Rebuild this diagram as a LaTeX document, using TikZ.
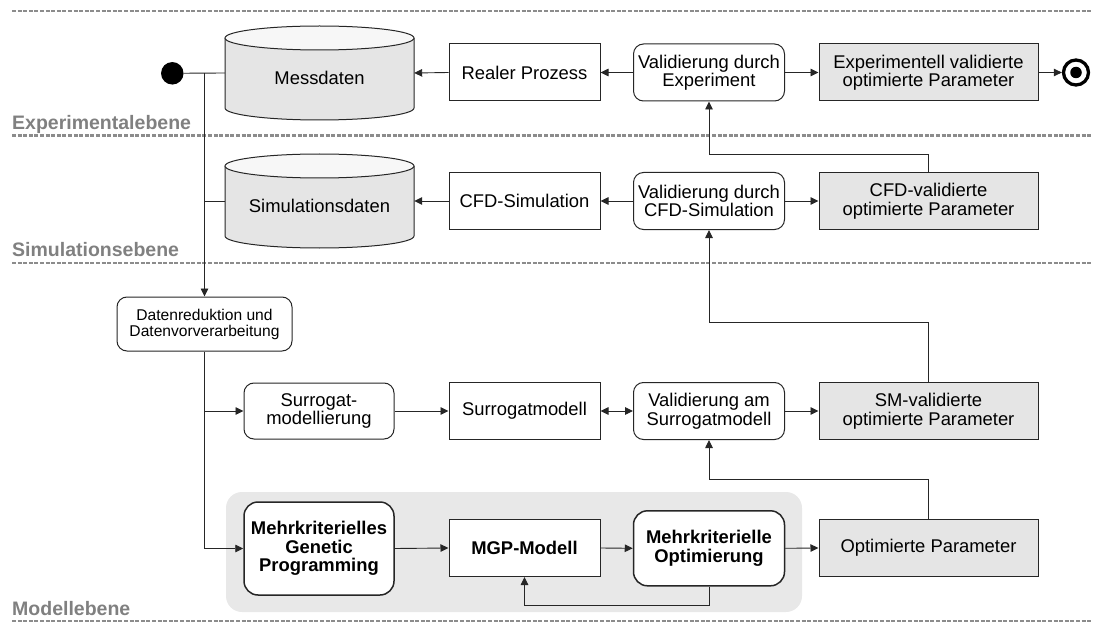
\documentclass[tikz,border=0pt]{standalone}
\usepackage{fontspec}
\setmainfont{Liberation Sans}
\usetikzlibrary{arrows.meta}
\begin{document}
\begin{tikzpicture}[x=1pt,y=-1pt,
  lane/.style={draw=black!45, line width=2.8pt, dash pattern=on 4pt off 1.6pt},
  lanelabel/.style={anchor=base west, inner sep=0pt, text=black!50, font=\fontsize{19.5}{20}\selectfont\bfseries},
  con/.style={draw=black!85, line width=0.9pt},
  arr/.style={con, -{Triangle[length=8pt,width=7.5pt]}},
  darr/.style={con, {Triangle[length=8pt,width=7.5pt]}-{Triangle[length=8pt,width=7.5pt]}},
  box/.style={draw=black!85, line width=1pt, minimum width=151pt, minimum height=57pt, align=center, inner sep=2pt, font=\fontsize{18.4}{18.5}\selectfont, fill=white},
  rbox/.style={box, rounded corners=10pt},
  gbox/.style={box, fill=gray!20, minimum width=219pt},
  boldtext/.style={font=\fontsize{18.4}{18.5}\selectfont\bfseries},
  cyltext/.style={minimum width=189pt, minimum height=94pt, inner sep=0pt, text height=22.7pt, text depth=0pt, font=\fontsize{18.4}{19}\selectfont},
  cylbody/.style={draw=black!85, line width=1pt},
]
\useasboundingbox (0,0) rectangle (1093,623);

% swimlane separators
\draw[lane] (12,11) -- (1093,11);
\draw[lane] (12,135.5) -- (1093,135.5);
\draw[lane] (12,263) -- (1093,263);
\draw[lane] (12,621) -- (1093,621);
\node[lanelabel] (lblexp) at (12,129.3) {Experimentalebene};
\node[lanelabel] (lblsim) at (12,256.7) {Simulationsebene};
\node[lanelabel] (lblmod) at (12,615) {Modellebene};

% group background
\fill[gray!18, rounded corners=16pt] (226,492) rectangle (802,612);

% cylinders
\fill[gray!20] (225,38) -- (225,108) arc[start angle=180,end angle=360,x radius=94.5pt,y radius=12pt] -- (414,38) -- cycle;
\draw[cylbody] (225,38) -- (225,108) arc[start angle=180,end angle=360,x radius=94.5pt,y radius=12pt] -- (414,38);
\filldraw[cylbody, fill=gray!6] (319.5,38) ellipse[x radius=94.5pt, y radius=12pt];
\node[cyltext] (mess) at (319.5,73) {Messdaten};

\fill[gray!20] (225,166) -- (225,236) arc[start angle=180,end angle=360,x radius=94.5pt,y radius=12pt] -- (414,166) -- cycle;
\draw[cylbody] (225,166) -- (225,236) arc[start angle=180,end angle=360,x radius=94.5pt,y radius=12pt] -- (414,166);
\filldraw[cylbody, fill=gray!6] (319.5,166) ellipse[x radius=94.5pt, y radius=12pt];
\node[cyltext] (sim) at (319.5,201) {Simulationsdaten};

% start / end
\node[circle, fill=black, minimum size=22.5pt, inner sep=0pt] (start) at (172.3,73.3) {};
\node[circle, draw=black, line width=3.3pt, minimum size=25pt, inner sep=0pt] (endo) at (1076,72.5) {};
\node[circle, fill=black, minimum size=11.5pt, inner sep=0pt] (endi) at (endo.center) {};

% row 1
\node[box] (real) at (524.5,72.5) {Realer Prozess};
\node[rbox] (valexp) at (709,72.5) {Validierung durch\\Experiment};
\node[gbox] (expval) at (928.5,72.5) {Experimentell validierte\\optimierte Parameter};

% row 2
\node[box] (cfd) at (524.5,201) {CFD-Simulation};
\node[rbox] (valcfd) at (709,201) {Validierung durch\\CFD-Simulation};
\node[gbox] (cfdval) at (928.5,201) {CFD-validierte\\optimierte Parameter};

% data reduction
\node[rbox, minimum width=175pt, minimum height=54pt, font=\fontsize{15.6}{16}\selectfont] (dr) at (204.5,324) {Datenreduktion und\\Datenvorverarbeitung};

% row 3
\node[rbox, minimum width=150pt, minimum height=56pt] (smg) at (319,411) {Surrogat-\\modellierung};
\node[box] (sm) at (524.5,411) {Surrogatmodell};
\node[rbox] (valsm) at (709,411) {Validierung am\\Surrogatmodell};
\node[gbox] (smval) at (928.5,411) {SM-validierte\\optimierte Parameter};

% row 4
\node[rbox, boldtext, minimum width=150pt, minimum height=93pt, line width=1.5pt, rounded corners=14pt] (gp) at (319,548.5) {Mehrkriterielles\\Genetic\\Programming};
\node[box, boldtext] (mgp) at (524.5,548) {MGP-Modell};
\node[rbox, boldtext, minimum height=75pt, line width=1.5pt, rounded corners=14pt] (opt) at (709,548.3) {Mehrkriterielle\\Optimierung};
\node[gbox] (optpar) at (928.5,548) {Optimierte Parameter};

% connectors
\draw[con] (start) -- (mess.west);
\coordinate (j) at (dr.north |- start);
\draw[arr] (j) -- (dr.north);
\draw[con] (j |- sim.west) -- (sim.west);

\draw[arr] (valexp.west) -- (real.east);
\draw[arr] (real.west) -- (mess.east);
\draw[arr] (valexp.east) -- (expval.west);
\draw[arr] (expval.east) -- (endo.west);

\draw[arr] (valcfd.west) -- (cfd.east);
\draw[arr] (cfd.west) -- (sim.east);
\draw[arr] (valcfd.east) -- (cfdval.west);

\draw[arr] (cfdval.north) -- ++(0,-18) -| (valexp.south);
\draw[arr] (smval.north) -- ++(0,-60) -| (valcfd.south);
\draw[arr] (optpar.north) -- ++(0,-39.5) -| (valsm.south);

\draw[arr] (dr.south) |- (gp.west);
\draw[arr] (dr.south |- smg.west) -- (smg.west);
\draw[arr] (smg.east) -- (sm.west);
\draw[darr] (sm.east) -- (valsm.west);
\draw[arr] (valsm.east) -- (smval.west);

\draw[arr] (gp.east) -- (mgp.west);
\draw[arr] (mgp.east) -- (opt.west);
\draw[arr] (opt.east) -- (optpar.west);
\draw[arr] (opt.south) -- ++(0,19) -| (mgp.south);
\end{tikzpicture}
\end{document}
